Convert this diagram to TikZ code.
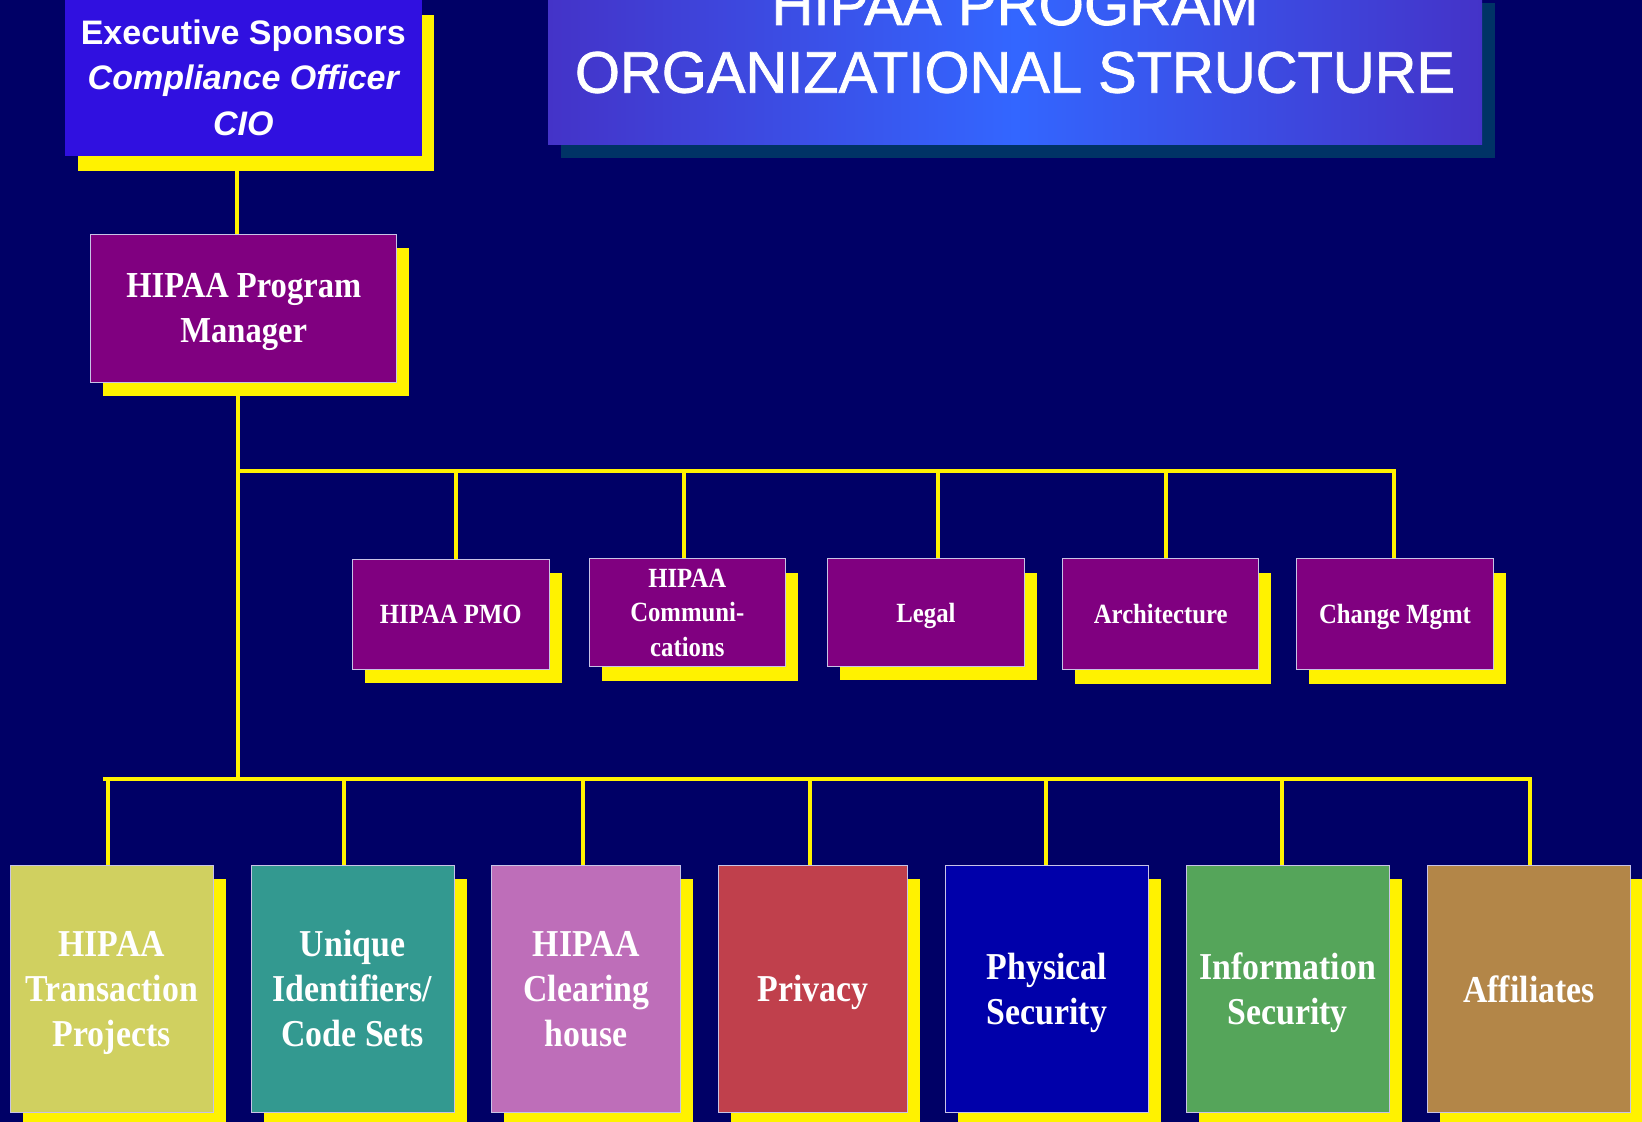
\documentclass[tikz,border=0pt]{standalone}
\usepackage{fontspec}
\setmainfont{Liberation Serif}
\newfontfamily\boxserif[FakeStretch=0.89]{Liberation Serif}
\newfontfamily\boxsans{Liberation Sans}
\newfontfamily\bannersans[FakeBold=1.2]{Liberation Sans}
\usetikzlibrary{shadows}

\definecolor{pagenavy}{RGB}{0,0,102}
\definecolor{titleedge}{RGB}{68,51,200}
\definecolor{titlemid}{RGB}{51,102,255}
\definecolor{titleshade}{RGB}{0,51,102}
\definecolor{execblue}{RGB}{48,16,224}
\definecolor{orgpurple}{RGB}{128,0,128}
\definecolor{boxrim}{RGB}{200,195,230}
\definecolor{unitA}{RGB}{208,208,96}
\definecolor{unitB}{RGB}{51,153,144}
\definecolor{unitC}{RGB}{190,110,185}
\definecolor{unitD}{RGB}{192,64,76}
\definecolor{unitE}{RGB}{0,0,170}
\definecolor{unitF}{RGB}{85,165,90}
\definecolor{unitG}{RGB}{179,134,72}

\begin{document}
\begin{tikzpicture}[x=0.5pt,y=-0.5pt,
  yellowshadow/.style={general shadow={fill=yellow,shadow xshift=6.25pt,shadow yshift=-7pt}},
  orgbox/.style={rectangle,inner sep=0pt,draw=boxrim,line width=0.5pt,text=white,align=center,
    text depth=0pt,yellowshadow},
  midbox/.style={orgbox,fill=orgpurple,minimum width=98.25pt,minimum height=55pt,
    font=\boxserif\bfseries\fontsize{13.9}{17.3}\selectfont},
  unitbox/.style={orgbox,minimum width=101.5pt,minimum height=123.5pt,
    font=\boxserif\bfseries\fontsize{19}{22.5}\selectfont},
  narrowunit/.style={unitbox,minimum width=94.5pt},
  link/.style={draw=yellow,line width=2pt},
  titletext/.style={text=white,inner sep=0pt,anchor=base,font=\bannersans}
]
\useasboundingbox (0,0) rectangle (1642,1122);
\clip (0,0) rectangle (1642,1122);
\fill[pagenavy] (0,0) rectangle (1642,1122);

% title banner
\node[rectangle,inner sep=0pt,minimum width=467pt,minimum height=77.5pt,
      left color=titleedge,right color=titleedge,middle color=titlemid,
      general shadow={fill=titleshade,shadow xshift=6.5pt,shadow yshift=-6.5pt}]
      (title) at (1015,67.5) {};
\node[titletext] (titleA) at (1015,25) {\resizebox{243.5pt}{20.5pt}{HIPAA PROGRAM}};
\node[titletext] (titleB) at (1015,92.7) {\resizebox{440pt}{20.5pt}{ORGANIZATIONAL STRUCTURE}};

% sponsors and manager
\node[rectangle,inner sep=0pt,fill=execblue,text=white,align=center,
      minimum width=178.35pt,minimum height=77.85pt,
      general shadow={fill=yellow,shadow xshift=6.35pt,shadow yshift=-7.5pt},
      font=\boxsans\bfseries\fontsize{17}{22.8}\selectfont]
      (exec) at (243.3,77.85)
      {Executive Sponsors\\ \itshape Compliance Officer\\ \itshape CIO};

\node[orgbox,fill=orgpurple,minimum width=153pt,minimum height=74.15pt,
      font=\boxserif\bfseries\fontsize{18.3}{22.3}\selectfont]
      (pm) at (243.7,308.2) {HIPAA Program\\Manager};

% staff functions
\node[midbox] (pmo) at (450.8,614.2) {HIPAA PMO};
\node[midbox,minimum height=53.85pt] (comms) at (687.3,612.8) {HIPAA\\Communi-\\cations};
\node[midbox,minimum height=53.8pt] (legal) at (926,612.5) {Legal};
\node[midbox,minimum height=55.5pt] (arch) at (1160.7,614.2) {Architecture};
\node[midbox,minimum height=55.5pt] (chg) at (1395,614.2) {Change Mgmt};

% program units
\node[unitbox,fill=unitA] (txn) at (111.7,988.7) {HIPAA\\Transaction\\Projects};
\node[unitbox,fill=unitB] (uid) at (352.5,988.7) {Unique\\Identifiers/\\Code Sets};
\node[narrowunit,fill=unitC] (clear) at (586.2,988.7) {HIPAA\\Clearing\\house};
\node[narrowunit,fill=unitD] (priv) at (813.3,988.7) {Privacy};
\node[unitbox,fill=unitE] (phys) at (1047,988.7) {Physical\\Security};
\node[unitbox,fill=unitF] (info) at (1287.7,988.7) {Information\\Security};
\node[unitbox,fill=unitG] (aff) at (1529,988.7) {Affiliates};

% connectors
\coordinate (xe) at (237,0);
\draw[link] (exec.south -| xe) -- (pm.north -| xe);

\coordinate (trunk) at (238.3,779);
\coordinate (ubL) at (238.3,470.7);
\coordinate (ubR) at (1394,470.7);
\draw[link] (pm.south -| trunk) -- (trunk);
\draw[link] (ubL) -- (ubR) -- (chg.north -| ubR);

\coordinate (dPmo) at (456,470.7);
\coordinate (dComms) at (684,470.7);
\coordinate (dLegal) at (937.7,470.7);
\coordinate (dArch) at (1165.7,470.7);
\draw[link] (dPmo) -- (pmo.north -| dPmo);
\draw[link] (dComms) -- (comms.north -| dComms);
\draw[link] (dLegal) -- (legal.north -| dLegal);
\draw[link] (dArch) -- (arch.north -| dArch);

\coordinate (lbL) at (103.3,779);
\coordinate (lbR) at (1530,779);
\draw[link] (lbL) -- (lbR) -- (aff.north -| lbR);

\coordinate (dTxn) at (108.3,779);
\coordinate (dUid) at (344,779);
\coordinate (dClear) at (583.3,779);
\coordinate (dPriv) at (810,779);
\coordinate (dPhys) at (1046,779);
\coordinate (dInfo) at (1282.3,779);
\draw[link] (dTxn) -- (txn.north -| dTxn);
\draw[link] (dUid) -- (uid.north -| dUid);
\draw[link] (dClear) -- (clear.north -| dClear);
\draw[link] (dPriv) -- (priv.north -| dPriv);
\draw[link] (dPhys) -- (phys.north -| dPhys);
\draw[link] (dInfo) -- (info.north -| dInfo);
\end{tikzpicture}
\end{document}
